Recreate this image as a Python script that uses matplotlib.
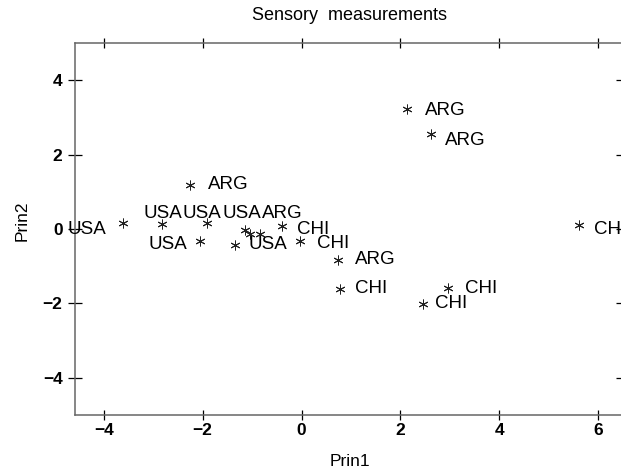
import matplotlib
matplotlib.use('Agg')
import matplotlib.pyplot as plt

plt.rcParams['font.family'] = ['Liberation Sans', 'DejaVu Sans']

# star positions (principal component scores)
prin1 = [2.13, 2.61, 5.62, 2.97, 2.45, -2.26, -3.61, -2.83, -1.92,
         -1.15, -1.04, -0.84, -0.40, -1.35, -0.03, -2.06, 0.74, 0.78]
prin2 = [3.23, 2.56, 0.12, -1.59, -2.02, 1.19, 0.16, 0.13, 0.16,
         -0.04, -0.13, -0.13, 0.09, -0.42, -0.33, -0.31, -0.83, -1.61]

# country labels, as placed beside the stars
label_text = ['ARG', 'ARG', 'CHI', 'CHI', 'CHI', 'ARG', 'USA',
              'USA', 'USA', 'USA', 'ARG', 'USA', 'USA',
              'CHI', 'CHI', 'ARG', 'CHI']
label_x = [2.50, 2.90, 5.91, 3.31, 2.70, -1.89, -4.74,
           -3.20, -2.41, -1.60, -0.80, -3.10, -1.08,
           -0.09, 0.31, 1.08, 1.08]
label_y = [3.19, 2.38, -0.02, -1.61, -1.99, 1.19, -0.02,
           0.41, 0.41, 0.41, 0.41, -0.42, -0.42,
           -0.02, -0.38, -0.83, -1.61]

x_ticks = [-4, -2, 0, 2, 4, 6]
y_ticks = [-4, -2, 0, 2, 4]

W, H = 621, 474
fig = plt.figure(figsize=(W / 100, H / 100), dpi=100, facecolor='white')
ax = fig.add_axes([75 / W, 1 - 415 / H, (623 - 75) / W, (415 - 43) / H])

ax.plot(prin1, prin2, linestyle='none', marker=(6, 2, 0), markersize=7,
        markeredgewidth=0.7, color='#222222')

for t, x, y in zip(label_text, label_x, label_y):
    ax.text(x, y, t, fontsize=13.5, ha='left', va='center', color='black',
            clip_on=False)

ax.set_xlim(-4.58, 6.5)
ax.set_ylim(-5, 5)
ax.set_xticks(x_ticks)
ax.set_yticks(y_ticks)
ax.set_xticklabels([str(v).replace('-', '\u2212') for v in x_ticks],
                   fontweight='bold', fontsize=12.5)
ax.set_yticklabels([str(v).replace('-', '\u2212') for v in y_ticks],
                   fontweight='bold', fontsize=12.5)

for s in ax.spines.values():
    s.set_color('#666666')
    s.set_linewidth(1.1)

ax.tick_params(axis='x', direction='inout', length=7, width=0.9,
               top=True, bottom=True, pad=2, colors='black')
ax.tick_params(axis='y', direction='inout', length=10, width=0.9,
               left=True, right=True, pad=4, colors='black')

fig.text(350 / W, 1 - 16 / H, 'Sensory  measurements', fontsize=13,
         ha='center', va='center')
fig.text(350 / W, 1 - 462 / H, 'Prin1', fontsize=12.5, ha='center', va='center')
fig.text(22 / W, 1 - 221 / H, 'Prin2', fontsize=12.5, ha='center', va='center',
         rotation=90)

fig.savefig('out.png', dpi=100, facecolor='white')
